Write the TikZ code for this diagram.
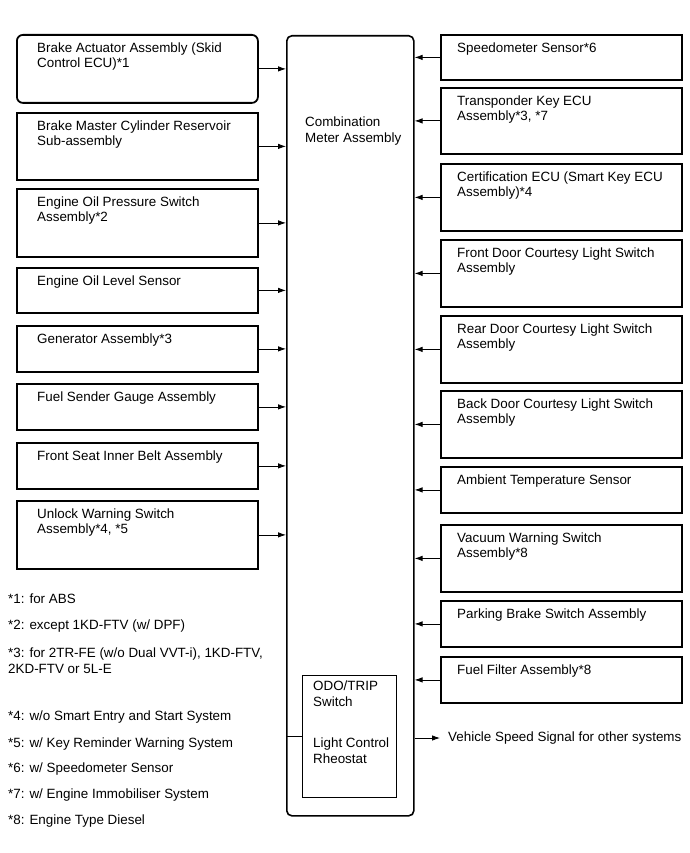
\documentclass[tikz,border=0pt]{standalone}
\usepackage{fontspec}
\setmainfont{Liberation Sans}
\usetikzlibrary{arrows.meta, positioning}

\begin{document}
\begin{tikzpicture}[
    x=1pt, y=-1pt,
    unit/.style={draw, line width=1.8pt, anchor=north west, minimum width=241pt, inner sep=0pt},
    meter/.style={draw, line width=1.6pt, rounded corners=5pt, anchor=north west, minimum width=127pt, minimum height=780pt, inner sep=0pt},
    inner/.style={draw, line width=0.9pt, anchor=north west, minimum width=94pt, minimum height=122pt, inner sep=0pt},
    txt/.style={inner sep=0pt, align=left, font=\fontsize{13.4}{15.5}\selectfont},
    note/.style={txt, anchor=base west},
    arrow/.style={-{Latex[length=8pt,width=5.5pt]}, line width=0.8pt}
]
\useasboundingbox (0,0) rectangle (689,853);

% combination meter
\node[meter] (cma) at (286,35) {};
\node[txt, below right=82pt and 19pt of cma.north west] (cmatxt) {Combination\\Meter Assembly};
\node[inner] (odo) at (302,675) {};
\node[txt, below right=6pt and 11pt of odo.north west] (odotxt) {ODO/TRIP\\Switch};
\node[txt, below right=63pt and 11pt of odo.north west] (rheotxt) {Light Control\\Rheostat};

% left side inputs
\node[unit, minimum height=68pt, rounded corners=6pt] (bact) at (16,34) {};
\node[txt, below right=8.5pt and 21pt of bact.north west] (bacttxt) {Brake Actuator Assembly (Skid\\Control ECU)*1};
\node[unit, minimum height=67pt] (bmcr) at (16,112) {};
\node[txt, below right=8.5pt and 21pt of bmcr.north west] (bmcrtxt) {Brake Master Cylinder Reservoir\\Sub-assembly};
\node[unit, minimum height=68pt] (eops) at (16,188) {};
\node[txt, below right=8.5pt and 21pt of eops.north west] (eopstxt) {Engine Oil Pressure Switch\\Assembly*2};
\node[unit, minimum height=45pt] (eols) at (16,267) {};
\node[txt, below right=8.5pt and 21pt of eols.north west] (eolstxt) {Engine Oil Level Sensor};
\node[unit, minimum height=46pt] (gen) at (16,325) {};
\node[txt, below right=8.5pt and 21pt of gen.north west] (gentxt) {Generator Assembly*3};
\node[unit, minimum height=46pt] (fsga) at (16,383) {};
\node[txt, below right=8.5pt and 21pt of fsga.north west] (fsgatxt) {Fuel Sender Gauge Assembly};
\node[unit, minimum height=46pt] (fsib) at (16,442) {};
\node[txt, below right=8.5pt and 21pt of fsib.north west] (fsibtxt) {Front Seat Inner Belt Assembly};
\node[unit, minimum height=68pt] (uws) at (16,500) {};
\node[txt, below right=8.5pt and 21pt of uws.north west] (uwstxt) {Unlock Warning Switch\\Assembly*4, *5};

\draw[arrow] (bact) -- (bact -| cma.west);
\draw[arrow] (bmcr) -- (bmcr -| cma.west);
\draw[arrow] (eops) -- (eops -| cma.west);
\draw[arrow] (eols) -- (eols -| cma.west);
\draw[arrow] (gen) -- (gen -| cma.west);
\draw[arrow] (fsga) -- (fsga -| cma.west);
\draw[arrow] (fsib) -- (fsib -| cma.west);
\draw[arrow] (uws) -- (uws -| cma.west);

% right side inputs
\node[unit, minimum height=45pt] (spd) at (440,34) {};
\node[txt, below right=8.5pt and 17pt of spd.north west] (spdtxt) {Speedometer Sensor*6};
\node[unit, minimum height=66pt] (tkey) at (440,87) {};
\node[txt, below right=8.5pt and 17pt of tkey.north west] (tkeytxt) {Transponder Key ECU\\Assembly*3, *7};
\node[unit, minimum height=67pt] (cert) at (440,163) {};
\node[txt, below right=8.5pt and 17pt of cert.north west] (certtxt) {Certification ECU (Smart Key ECU\\Assembly)*4};
\node[unit, minimum height=67pt] (fdcl) at (440,239) {};
\node[txt, below right=8.5pt and 17pt of fdcl.north west] (fdcltxt) {Front Door Courtesy Light Switch\\Assembly};
\node[unit, minimum height=67pt] (rdcl) at (440,315) {};
\node[txt, below right=8.5pt and 17pt of rdcl.north west] (rdcltxt) {Rear Door Courtesy Light Switch\\Assembly};
\node[unit, minimum height=67pt] (bdcl) at (440,390) {};
\node[txt, below right=8.5pt and 17pt of bdcl.north west] (bdcltxt) {Back Door Courtesy Light Switch\\Assembly};
\node[unit, minimum height=46pt] (amb) at (440,466) {};
\node[txt, below right=8.5pt and 17pt of amb.north west] (ambtxt) {Ambient Temperature Sensor};
\node[unit, minimum height=67pt] (vws) at (440,524) {};
\node[txt, below right=8.5pt and 17pt of vws.north west] (vwstxt) {Vacuum Warning Switch\\Assembly*8};
\node[unit, minimum height=46pt] (pbs) at (440,600) {};
\node[txt, below right=8.5pt and 17pt of pbs.north west] (pbstxt) {Parking Brake Switch Assembly};
\node[unit, minimum height=46pt] (ffa) at (440,656) {};
\node[txt, below right=8.5pt and 17pt of ffa.north west] (ffatxt) {Fuel Filter Assembly*8};

\draw[arrow] (spd) -- (spd -| cma.east);
\draw[arrow] (tkey) -- (tkey -| cma.east);
\draw[arrow] (cert) -- (cert -| cma.east);
\draw[arrow] (fdcl) -- (fdcl -| cma.east);
\draw[arrow] (rdcl) -- (rdcl -| cma.east);
\draw[arrow] (bdcl) -- (bdcl -| cma.east);
\draw[arrow] (amb) -- (amb -| cma.east);
\draw[arrow] (vws) -- (vws -| cma.east);
\draw[arrow] (pbs) -- (pbs -| cma.east);
\draw[arrow] (ffa) -- (ffa -| cma.east);

% output and switch link
\node[txt, anchor=west, inner xsep=8pt] (vss) at (440,738) {Vehicle Speed Signal for other systems};
\draw[arrow] (vss.west -| cma.east) -- (vss.west);
\draw[line width=0.8pt] (odo.west) -- (odo.west -| cma.west);

% footnotes
\node[note] (n1) at (8,603) {*1: for ABS};
\node[note] (n2) at (8,629) {*2: except 1KD-FTV (w/ DPF)};
\node[txt, anchor=north west] (n3) at (8,648) {*3: for 2TR-FE (w/o Dual VVT-i), 1KD-FTV,\\2KD-FTV or 5L-E};
\node[note] (n4) at (8,720) {*4: w/o Smart Entry and Start System};
\node[note] (n5) at (8,747) {*5: w/ Key Reminder Warning System};
\node[note] (n6) at (8,772) {*6: w/ Speedometer Sensor};
\node[note] (n7) at (8,798) {*7: w/ Engine Immobiliser System};
\node[note] (n8) at (8,824) {*8: Engine Type Diesel};
\end{tikzpicture}
\end{document}
